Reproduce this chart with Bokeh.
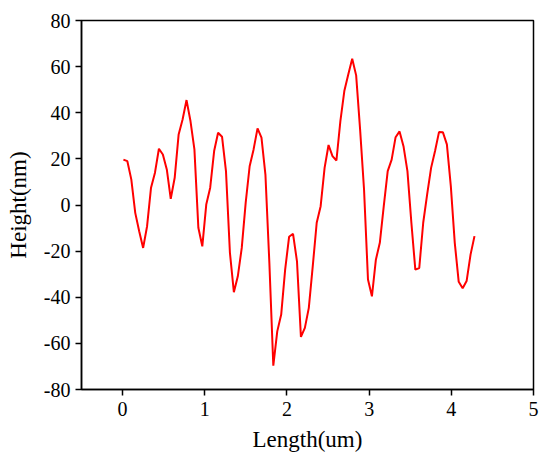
from bokeh.plotting import figure
from bokeh.models import Range1d, FixedTicker
from bokeh.embed import file_html
from bokeh.resources import INLINE

length_um = [0.010, 0.058, 0.106, 0.154, 0.202, 0.250, 0.298, 0.346, 0.394, 0.442,
             0.490, 0.538, 0.586, 0.634, 0.682, 0.730, 0.778, 0.826, 0.874, 0.922,
             0.970, 1.018, 1.066, 1.114, 1.162, 1.210, 1.258, 1.306, 1.354, 1.402,
             1.450, 1.498, 1.546, 1.594, 1.642, 1.690, 1.738, 1.786, 1.834, 1.882,
             1.930, 1.978, 2.026, 2.074, 2.122, 2.170, 2.218, 2.266, 2.314, 2.362,
             2.410, 2.458, 2.506, 2.554, 2.602, 2.650, 2.698, 2.746, 2.794, 2.842,
             2.890, 2.938, 2.986, 3.034, 3.082, 3.130, 3.178, 3.226, 3.274, 3.322,
             3.370, 3.418, 3.466, 3.514, 3.562, 3.610, 3.658, 3.706, 3.754, 3.802,
             3.850, 3.898, 3.946, 3.994, 4.042, 4.090, 4.138, 4.186, 4.234, 4.282]
height_nm = [19.7, 19.0, 11.1, -3.4, -11.4, -18.6, -9.2, 7.5, 14.0, 24.4,
             21.9, 15.4, 2.7, 11.8, 30.6, 37.1, 45.5, 36.4, 24.1, -9.9,
             -17.9, 0.2, 7.5, 23.4, 31.3, 29.6, 14.7, -20.7, -37.8, -30.9,
             -18.6, 1.0, 16.8, 24.1, 33.2, 29.2, 13.2, -25.1, -69.7, -54.8,
             -47.5, -28.0, -13.8, -12.5, -24.4, -57.2, -53.3, -44.6, -26.5, -7.7,
             -0.5, 16.1, 26.0, 21.2, 19.3, 36.4, 49.4, 56.6, 63.4, 56.2,
             32.8, 6.7, -32.3, -39.6, -23.7, -16.4, -0.5, 14.7, 19.7, 29.4,
             31.9, 25.5, 14.7, -7.7, -28.0, -27.3, -7.7, 4.6, 16.1, 23.4,
             31.6, 31.5, 26.3, 8.2, -16.4, -33.3, -36.1, -33.0, -21.5, -13.5]

x_ticks = [0, 1, 2, 3, 4, 5]
x_tick_labels = ["0", "1", "2", "3", "4", "5"]
y_ticks = [-80, -60, -40, -20, 0, 20, 40, 60, 80]
y_tick_labels = ["-80", "-60", "-40", "-20", "0", "20", "40", "60", "80"]

FONT = "Liberation Serif"

p = figure(width=548, height=460, output_backend="svg", toolbar_location=None,
           x_range=Range1d(-0.5, 5), y_range=Range1d(-80, 80),
           min_border_left=81, min_border_right=15, min_border_top=20, min_border_bottom=71)

p.line(length_um, height_nm, line_color="#FF0000", line_width=2)

p.grid.visible = False
p.outline_line_color = "black"
p.outline_line_width = 1.5

p.xaxis.ticker = FixedTicker(ticks=x_ticks)
p.yaxis.ticker = FixedTicker(ticks=y_ticks)
p.xaxis.major_label_overrides = {t: l for t, l in zip(x_ticks, x_tick_labels)}
p.yaxis.major_label_overrides = {t: l for t, l in zip(y_ticks, y_tick_labels)}

p.axis.axis_line_color = "black"
p.axis.axis_line_width = 1.5
p.axis.major_tick_line_color = "black"
p.axis.major_tick_line_width = 1.5
p.axis.major_tick_out = 6
p.axis.major_tick_in = 0
p.axis.minor_tick_line_color = None
p.axis.major_label_text_color = "black"
p.axis.major_label_text_font = FONT
p.axis.major_label_text_font_size = "20px"
p.axis.axis_label_text_font = FONT
p.axis.axis_label_text_font_size = "23px"
p.axis.axis_label_text_font_style = "normal"
p.axis.axis_label_text_color = "black"

p.xaxis.axis_label = "Length(um)"
p.yaxis.axis_label = "Height(nm)"
p.xaxis.major_label_standoff = 6
p.yaxis.major_label_standoff = 5
p.xaxis.axis_label_standoff = 8
p.yaxis.axis_label_standoff = 10

open("out.html", "w").write(file_html(p, INLINE))
